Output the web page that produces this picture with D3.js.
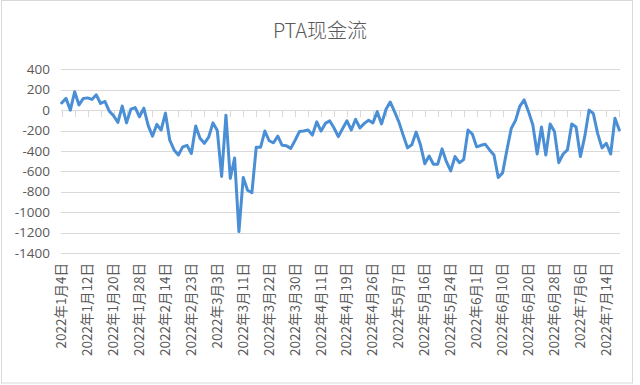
<!DOCTYPE html>
<html><head><meta charset="utf-8">
<script src="https://cdn.jsdelivr.net/npm/d3@7"></script>
<style>html,body{margin:0;padding:0;background:#fff;}svg{display:block;}</style>
</head><body><svg id="c" width="640" height="385"></svg>
<script>
const title = "PTA现金流";
const categories = ["1/4","1/5","1/6","1/7","1/10","1/11","1/12","1/13","1/14","1/17","1/18","1/19","1/20","1/21","1/24","1/25","1/26","1/27","1/28",
"2/7","2/8","2/9","2/10","2/11","2/14","2/15","2/16","2/17","2/21","2/22","2/23","2/24","2/25","2/28",
"3/1","3/2","3/3","3/4","3/7","3/8","3/9","3/10","3/11","3/14","3/15","3/16","3/17","3/21","3/22","3/23","3/24","3/25","3/28","3/29","3/30","3/31",
"4/1","4/6","4/7","4/8","4/11","4/12","4/13","4/14","4/15","4/18","4/19","4/20","4/21","4/22","4/24","4/25","4/26","4/27","4/28","4/29",
"5/5","5/6","5/7","5/9","5/10","5/11","5/12","5/13","5/16","5/17","5/18","5/19","5/20","5/23","5/24","5/25","5/26","5/27","5/30","5/31",
"6/1","6/2","6/6","6/7","6/8","6/9","6/10","6/13","6/14","6/15","6/16","6/17","6/20","6/21","6/22","6/23","6/24","6/27","6/28","6/29","6/30",
"7/1","7/4","7/5","7/6","7/7","7/8","7/11","7/12","7/13","7/14","7/15","7/18","7/19"];
const values = [70,115,0,180,50,115,120,105,150,65,85,-10,-55,-120,40,-125,10,25,-65,20,
-150,-255,-140,-195,-30,-295,-390,-440,-360,-345,-425,-155,-275,-325,-265,-125,-200,-650,-50,-670,
-470,-1190,-660,-785,-810,-365,-365,-205,-300,-320,-255,-345,-350,-375,-295,-210,-205,-195,-245,-115,
-205,-130,-105,-175,-260,-180,-105,-195,-90,-175,-130,-100,-125,-15,-135,5,80,-15,-115,-245,
-370,-340,-215,-340,-525,-450,-530,-530,-380,-505,-595,-455,-515,-485,-195,-235,-360,-345,-335,-390,
-440,-660,-615,-390,-180,-100,40,100,-15,-145,-430,-165,-440,-135,-210,-515,-430,-390,-135,-165,
-455,-260,0,-35,-230,-370,-325,-430,-80,-195];
const yTicks = [400,200,0,-200,-400,-600,-800,-1000,-1200,-1400];
const labelEvery = 6, tickEvery = 3;

const svg = d3.select("#c");
const fontCN = "'Noto Sans CJK SC','Noto Sans',sans-serif";
svg.append("rect").attr("x",1.5).attr("y",0.5).attr("width",631).attr("height",382.5)
  .attr("fill","#fff").attr("stroke","#d9d9d9");

const x = d3.scalePoint().domain(d3.range(categories.length)).range([61.7,619.3]);
const y = d3.scaleLinear().domain([-1400,400]).range([253,69.3]);

svg.append("text").attr("x",320).attr("y",38).attr("text-anchor","middle")
  .attr("font-family",fontCN).attr("font-size",20).attr("font-weight",300).attr("fill","#595959").text(title);

// grid
svg.append("g").selectAll("line").data(yTicks).join("line")
  .attr("x1",61).attr("x2",620).attr("y1",d=>Math.round(y(d))+0.5).attr("y2",d=>Math.round(y(d))+0.5)
  .attr("stroke","#d9d9d9").attr("stroke-width",1);

// y labels
svg.append("g").selectAll("text").data(yTicks).join("text")
  .attr("x",50).attr("y",d=>y(d)).attr("dy","0.35em").attr("text-anchor","end")
  .attr("font-family","'Open Sans','Noto Sans',sans-serif").attr("font-size",13.5).attr("fill","#595959")
  .text(d=>d);

// category axis at 0 with tick marks
const tickIdx = d3.range(0,categories.length,tickEvery);
svg.append("g").selectAll("line").data(tickIdx).join("line")
  .attr("x1",d=>Math.round(x(d))+0.5).attr("x2",d=>Math.round(x(d))+0.5)
  .attr("y1",Math.round(y(0))+0.5).attr("y2",Math.round(y(0))+7)
  .attr("stroke","#d9d9d9");

// x labels
const labIdx = d3.range(0,categories.length,labelEvery);
svg.append("g").selectAll("text").data(labIdx).join("text")
  .attr("transform",d=>`translate(${x(d)+4.5},263) rotate(-90)`)
  .attr("text-anchor","end")
  .attr("font-family",fontCN).attr("font-size",13.5).attr("fill","#595959")
  .text(d=>{const [m,dd]=categories[d].split("/");return `2022年${m}月${dd}日`;});

// line
const line = d3.line().x((d,i)=>x(i)).y(d=>y(d));
svg.append("path").datum(values).attr("d",line).attr("fill","none")
  .attr("stroke","#4a8fd5").attr("stroke-width",3).attr("stroke-linejoin","round").attr("stroke-linecap","round");
</script></body></html>
